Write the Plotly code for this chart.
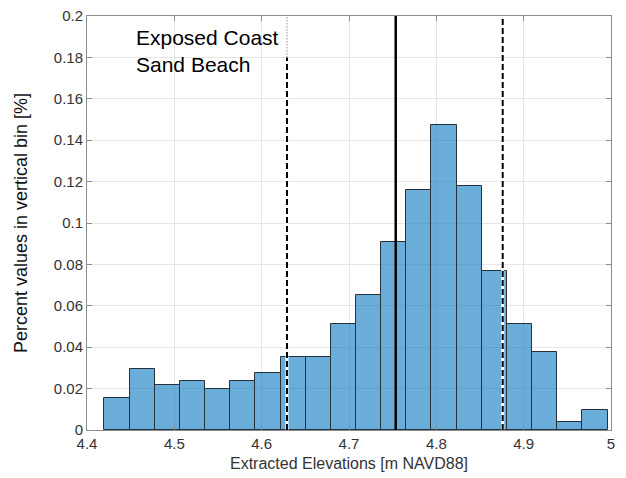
import plotly.graph_objects as go

# ---- data ----
bin_start = 4.42
bin_width = 0.0288
percent_values = [0.0156, 0.0295, 0.0217, 0.0235, 0.0197, 0.0235, 0.0275,
                  0.0355, 0.0355, 0.0512, 0.0650, 0.0910, 0.1160, 0.1475,
                  0.1179, 0.0768, 0.0512, 0.0377, 0.0039, 0.0098]
mean_elev = 4.7535
lower_bound = 4.629
upper_bound = 4.876
lower_dash_top = 0.18
y_top = 0.2

x_tick_vals = [4.4, 4.5, 4.6, 4.7, 4.8, 4.9, 5.0]
x_tick_text = ["4.4", "4.5", "4.6", "4.7", "4.8", "4.9", "5"]
y_tick_vals = [0, 0.02, 0.04, 0.06, 0.08, 0.1, 0.12, 0.14, 0.16, 0.18, 0.2]
y_tick_text = ["0", "0.02", "0.04", "0.06", "0.08", "0.1", "0.12", "0.14", "0.16", "0.18", "0.2"]

label_text = "Exposed Coast<br>Sand Beach"

centers = [bin_start + bin_width * (i + 0.5) for i in range(len(percent_values))]

FONT = "Liberation Sans, Arial, sans-serif"
AXC = "#8c8c8c"

fig = go.Figure()
fig.add_trace(go.Bar(
    x=centers, y=percent_values, width=bin_width,
    marker=dict(color="rgba(0,114,189,0.58)",
                line=dict(color="#26323b", width=1)),
    hoverinfo="skip", showlegend=False,
))

def vline(x, y0, y1, color, width, dash):
    fig.add_trace(go.Scatter(x=[x, x], y=[y0, y1], mode="lines",
                             line=dict(color=color, width=width, dash=dash),
                             hoverinfo="skip", showlegend=False))

# white underlay for dashed lines
vline(lower_bound, 0, lower_dash_top, "white", 3, "solid")
vline(upper_bound, 0, y_top, "white", 3, "solid")
vline(lower_bound, 0, lower_dash_top, "black", 2, "6px,3px")
vline(lower_bound, lower_dash_top, y_top, "#555555", 1, "1px,2px")
vline(upper_bound, 0, y_top, "black", 2, "6px,3px")
vline(mean_elev, 0, y_top, "black", 2.5, "solid")

fig.add_annotation(
    x=4.454, y=0.196, xref="x", yref="y", text=label_text,
    showarrow=False, xanchor="left", yanchor="top", align="left",
    font=dict(family=FONT, size=21, color="black"),
)

fig.update_layout(
    width=618, height=470,
    margin=dict(l=79, r=15, t=8, b=48),
    paper_bgcolor="white", plot_bgcolor="white",
    bargap=0,
    font=dict(family=FONT, size=15, color="#262626"),
)
fig.update_xaxes(
    range=[4.4, 5.0], tickvals=x_tick_vals, ticktext=x_tick_text,
    showgrid=True, gridcolor="#e6e6e6", gridwidth=1,
    showline=True, linecolor=AXC, linewidth=1, mirror="ticks",
    ticks="inside", ticklen=5, tickcolor=AXC,
    tickfont=dict(family=FONT, size=15, color="#333333"),
    ticklabeloverflow="allow",
    title=dict(text="Extracted Elevations [m NAVD88]", standoff=6,
               font=dict(family=FONT, size=16, color="#333333")),
    zeroline=False, automargin=False,
)
fig.update_yaxes(
    range=[0, 0.2], tickvals=y_tick_vals, ticktext=y_tick_text,
    showgrid=True, gridcolor="#e6e6e6", gridwidth=1,
    showline=True, linecolor=AXC, linewidth=1, mirror="ticks",
    ticks="inside", ticklen=5, tickcolor=AXC,
    tickfont=dict(family=FONT, size=15, color="#333333"),
    ticklabeloverflow="allow",
    title=dict(text="Percent values in vertical bin [%]", standoff=21,
               font=dict(family=FONT, size=18, color="#111111")),
    zeroline=False, automargin=False,
)

fig.write_html("out.html")
